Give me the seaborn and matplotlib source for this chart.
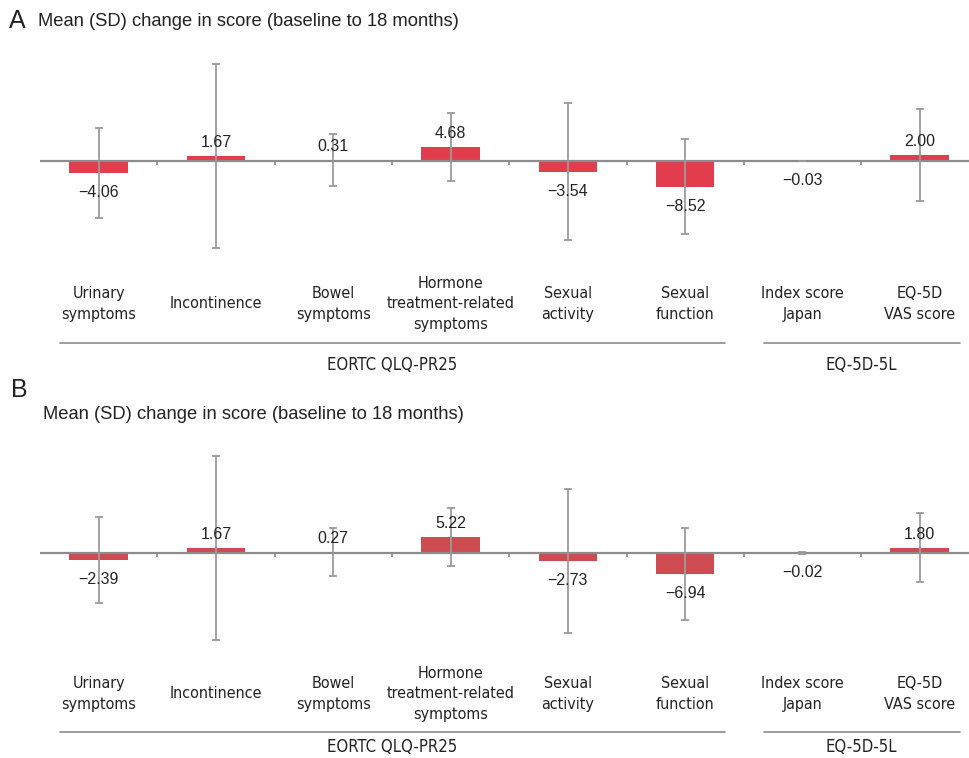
import matplotlib
matplotlib.use("Agg")
import matplotlib.pyplot as plt
import matplotlib.transforms as mtransforms
from matplotlib import font_manager
import seaborn as sns

# Categories and their grouping
categories = [
    "Urinary\nsymptoms", "Incontinence", "Bowel\nsymptoms",
    "Hormone\ntreatment-related\nsymptoms", "Sexual\nactivity",
    "Sexual\nfunction", "Index score\nJapan", "EQ-5D\nVAS score",
]
group_names = ["EORTC QLQ-PR25", "EQ-5D-5L"]
group_members = [[0, 1, 2, 3, 4, 5], [6, 7]]

# Panel A: mean (SD) change from baseline to 18 months
mean_a = [-4.06, 1.67, 0.31, 4.68, -3.54, -8.52, -0.03, 2.00]
sd_a = [14.9, 30.8, 8.8, 11.4, 22.8, 15.7, 0.1, 15.4]

# Panel B: mean (SD) change from baseline to 18 months
mean_b = [-2.39, 1.67, 0.27, 5.22, -2.73, -6.94, -0.02, 1.80]
sd_b = [14.3, 30.8, 7.9, 9.7, 24.1, 15.3, 0.4, 11.5]

sns.set_style("white")
plt.rcParams["font.family"] = ["Liberation Sans", "DejaVu Sans"]

# Category labels use a condensed face when one is available
cond = [f for f in font_manager.fontManager.ttflist
        if "Condensed" in f.fname or "Narrow" in f.fname]
if any(f.name == "Liberation Sans Narrow" for f in cond):
    NARROW = dict(family=["Liberation Sans Narrow", "DejaVu Sans"])
elif any(f.name == "DejaVu Sans" for f in cond):
    NARROW = dict(family=["DejaVu Sans"], fontstretch="condensed")
else:
    NARROW = dict(family=["Liberation Sans", "DejaVu Sans"])

W, H = 970, 758
fig = plt.figure(figsize=(W / 100, H / 100), dpi=100)


def fx(px):
    return px / W


def fy(px):
    return 1 - px / H


TEXT = "#222222"
GRAY = "#8c8c8c"
ERR = "#9b9b9b"


def panel(top_px, zero_px, bottom_px, means, sds, color, letter, letter_xy,
          title_xy, label_y, line_y, group_y):
    left, right = 40, 40 + 8 * 117.3
    ax = fig.add_axes([fx(left), fy(bottom_px), fx(right - left),
                       (bottom_px - top_px) / H])
    scale = 3.0  # pixels per score unit
    sns.barplot(x=list(range(len(means))), y=means, color=color,
                saturation=1, width=0.5, errorbar=None, ax=ax, zorder=2,
                linewidth=0)
    ax.errorbar(list(range(len(means))), means, yerr=sds, fmt="none",
                ecolor=ERR, elinewidth=1.3, capsize=3, capthick=1.3,
                zorder=3)
    ax.set_xlim(-0.5, len(means) - 0.5)
    ax.set_ylim(-(bottom_px - zero_px) / scale, (zero_px - top_px) / scale)
    ax.axhline(0, color=GRAY, lw=1.6, zorder=2.5)
    ax.vlines([i + 0.5 for i in range(len(means) - 1)], -1.2, 0,
              color=GRAY, lw=1.3, zorder=2.5)
    for s in ax.spines.values():
        s.set_visible(False)
    ax.set_xticks([])
    ax.set_yticks([])
    ax.set_xlabel("")
    ax.set_ylabel("")
    ax.patch.set_alpha(0)

    for i, v in enumerate(means):
        off = 13.5 if v > 0 else -19.5
        ax.annotate(f"{v:.2f}".replace("-", "\u2212"), (i, v),
                    xytext=(0, off), textcoords="offset pixels",
                    ha="center", va="center", fontsize=11.5, color=TEXT,
                    zorder=4)

    trans = mtransforms.blended_transform_factory(ax.transData,
                                                  fig.transFigure)
    for i, lab in enumerate(categories):
        ax.text(i, fy(label_y), lab, transform=trans, ha="center",
                va="center", fontsize=11.5, color=TEXT, linespacing=1.5,
                **NARROW)
    for name, members in zip(group_names, group_members):
        x0, x1 = members[0] - 0.33, members[-1] + 0.34
        ax.plot([x0, x1], [fy(line_y)] * 2, transform=trans, color=GRAY,
                lw=1.2, clip_on=False)
        ax.text((x0 + x1) / 2, fy(group_y), name, transform=trans,
                ha="center", va="center", fontsize=12, color=TEXT,
                **NARROW)

    fig.text(fx(letter_xy[0]), fy(letter_xy[1]), letter, ha="left",
             va="center", fontsize=18, color=TEXT)
    fig.text(fx(title_xy[0]), fy(title_xy[1]),
             "Mean (SD) change in score (baseline to 18 months)",
             ha="left", va="center", fontsize=13.2, color=TEXT)
    return ax


panel(45, 161, 262, mean_a, sd_a, "#E13D4D", "A", (9, 21), (38, 22),
      304, 343, 365)
panel(440, 553, 655, mean_b, sd_b, "#CD4B51", "B", (11, 390), (43, 414),
      694, 732, 747)

fig.savefig("out.png", dpi=100)
